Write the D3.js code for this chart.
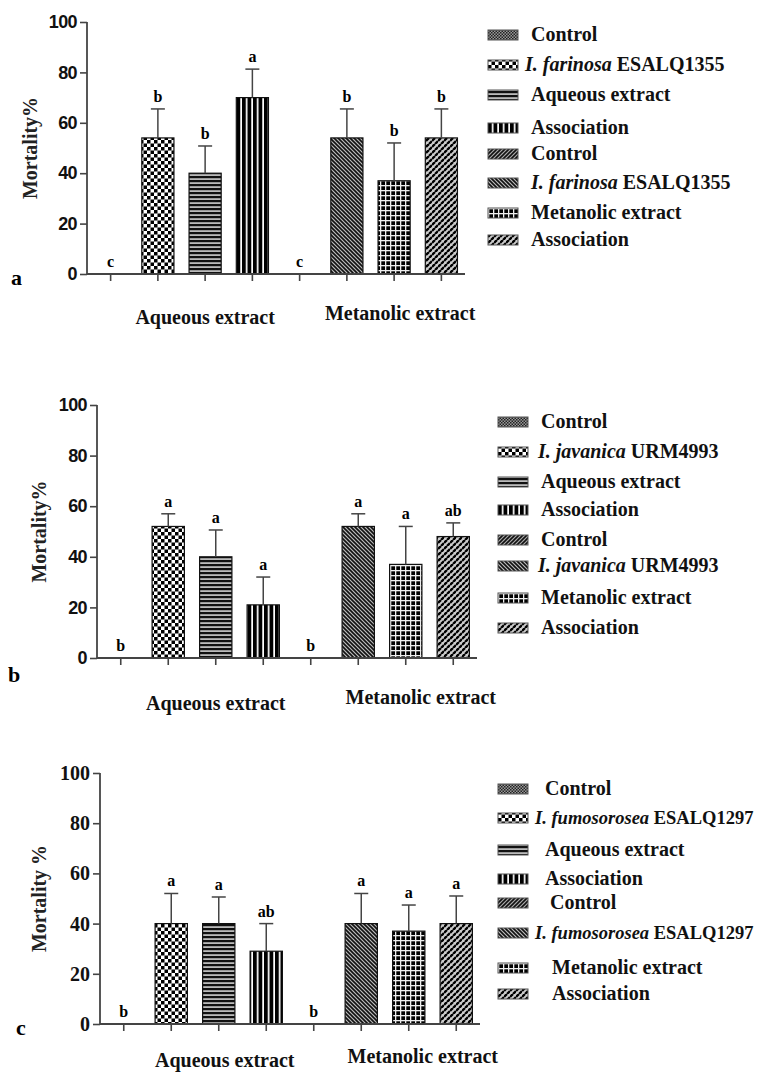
<!DOCTYPE html>
<html>
<head>
<meta charset="utf-8">
<script src="https://cdn.jsdelivr.net/npm/d3@7"></script>
<style>
body { margin: 0; background: #fff; }
svg { display: block; }
</style>
</head>
<body>
<div id="chart"></div>
<script>

// data
const groups = ["Aqueous extract", "Metanolic extract"];
const treatments = ["ctrlA", "fungusA", "extractA", "assocA", "ctrlM", "fungusM", "extractM", "assocM"];
const yTicks = [0, 20, 40, 60, 80, 100];

const meansA = [0, 54, 40, 70, 0, 54, 37, 54];
const errorsA = [0, 11.5, 10.8, 11.3, 0, 11.5, 15, 11.5];
const lettersA = ["c", "b", "b", "a", "c", "b", "b", "b"];
const fungusA = ["I. farinosa", "ESALQ1355"];

const meansB = [0, 52, 40, 21, 0, 52, 37, 48];
const errorsB = [0, 5, 10.6, 11, 0, 5, 15, 5.4];
const lettersB = ["b", "a", "a", "a", "b", "a", "a", "ab"];
const fungusB = ["I. javanica", "URM4993"];

const meansC = [0, 40, 40, 29, 0, 40, 37, 40];
const errorsC = [0, 12, 10.6, 11, 0, 12, 10.4, 11];
const lettersC = ["b", "a", "a", "ab", "b", "a", "a", "a"];
const fungusC = ["I. fumosorosea", "ESALQ1297"];

const legendPatterns = ["ctrlA", "fungusA", "extractA", "assocA", "ctrlM", "fungusM", "extractM", "assocM"];

const W = 759, H = 1072;
const serif = "'Liberation Serif', 'Times New Roman', serif";
const sans = "'Liberation Sans', Arial, sans-serif";
const axisColor = "#444";

const svg = d3.select("#chart").append("svg")
  .attr("width", W)
  .attr("height", H);

// fill patterns
const defs = svg.append("defs");

function pattern(id, size, build, bg) {
  const p = defs.append("pattern")
    .attr("id", id)
    .attr("patternUnits", "userSpaceOnUse")
    .attr("width", size)
    .attr("height", size);
  p.append("rect").attr("width", size).attr("height", size).attr("fill", bg || "#fff");
  build(p, size);
}

pattern("ctrlA", 3, (p) => {
  p.append("rect").attr("width", 1.5).attr("height", 1.5).attr("fill", "#222");
  p.append("rect").attr("x", 1.5).attr("y", 1.5).attr("width", 1.5).attr("height", 1.5).attr("fill", "#222");
}, "#999");
pattern("fungusA", 7, (p) => {
  p.append("rect").attr("width", 3.5).attr("height", 3.5).attr("fill", "#000");
  p.append("rect").attr("x", 3.5).attr("y", 3.5).attr("width", 3.5).attr("height", 3.5).attr("fill", "#000");
});
pattern("extractA", 4, (p) => {
  p.append("rect").attr("width", 4).attr("height", 2.2).attr("fill", "#111");
}, "#bbb");
pattern("assocA", 5.5, (p) => {
  p.append("rect").attr("width", 3.8).attr("height", 5.5).attr("fill", "#000");
});
pattern("ctrlM", 4, (p) => {
  p.append("path").attr("d", "M-1,1 L1,-1 M0,4 L4,0 M3,5 L5,3").attr("stroke", "#111").attr("stroke-width", 1.6);
}, "#aaa");
pattern("fungusM", 4, (p) => {
  p.append("path").attr("d", "M-1,3 L1,5 M0,0 L4,4 M3,-1 L5,1").attr("stroke", "#111").attr("stroke-width", 1.6);
}, "#bbb");
pattern("extractM", 5, (p) => {
  p.append("rect").attr("x", 1.3).attr("y", 1.3).attr("width", 3.7).attr("height", 3.7).attr("fill", "#000");
}, "#eee");
pattern("assocM", 6, (p) => {
  p.append("path").attr("d", "M0,3 L3,0 M3,6 L6,3").attr("stroke", "#000").attr("stroke-width", 2.4);
}, "#ccc");

// one panel
function drawPanel(cfg) {
  const g = svg.append("g");

  const x = d3.scaleBand()
    .domain(treatments)
    .range([cfg.axisX, cfg.xEnd])
    .paddingInner(0.32)
    .paddingOuter(0.16);

  const y = d3.scaleLinear()
    .domain([0, 100])
    .range([cfg.y0, cfg.y100]);

  const data = treatments.map((t, i) => ({ t, mean: cfg.means[i], err: cfg.errors[i], letter: cfg.letters[i] }));

  // bars
  g.selectAll(".bar")
    .data(data.filter(d => d.mean > 0))
    .join("rect")
    .attr("class", "bar")
    .attr("x", d => x(d.t))
    .attr("y", d => y(d.mean))
    .attr("width", x.bandwidth())
    .attr("height", d => y(0) - y(d.mean))
    .attr("fill", d => `url(#${d.t})`)
    .attr("stroke", "#111")
    .attr("stroke-width", 1.2);

  // error bars
  const cap = 7;
  const eb = g.selectAll(".err")
    .data(data.filter(d => d.err > 0))
    .join("g")
    .attr("class", "err")
    .attr("stroke", "#444")
    .attr("stroke-width", 1.5);
  eb.append("line")
    .attr("x1", d => x(d.t) + x.bandwidth() / 2)
    .attr("x2", d => x(d.t) + x.bandwidth() / 2)
    .attr("y1", d => y(d.mean))
    .attr("y2", d => y(d.mean + d.err));
  eb.append("line")
    .attr("x1", d => x(d.t) + x.bandwidth() / 2 - cap)
    .attr("x2", d => x(d.t) + x.bandwidth() / 2 + cap)
    .attr("y1", d => y(d.mean + d.err))
    .attr("y2", d => y(d.mean + d.err));

  // significance letters
  g.selectAll(".letter")
    .data(data)
    .join("text")
    .attr("class", "letter")
    .attr("x", d => x(d.t) + x.bandwidth() / 2)
    .attr("y", d => y(d.mean + d.err) - 7)
    .attr("text-anchor", "middle")
    .attr("font-family", serif)
    .attr("font-weight", "bold")
    .attr("font-size", 16)
    .text(d => d.letter);

  // axes
  const yAxis = d3.axisLeft(y).tickValues(yTicks).tickSize(7).tickPadding(3);
  const gy = g.append("g")
    .attr("transform", `translate(${cfg.axisX},0)`)
    .call(yAxis);
  const xAxis = d3.axisBottom(x).tickSize(7).tickFormat("");
  const gx = g.append("g")
    .attr("transform", `translate(0,${cfg.y0})`)
    .call(xAxis);
  [gx, gy].forEach(a => {
    a.select(".domain").attr("stroke", axisColor).attr("stroke-width", 1.8);
    a.selectAll(".tick line").attr("stroke", axisColor).attr("stroke-width", 1.6);
  });
  gx.select(".domain").attr("d", `M${cfg.axisX},0H${cfg.xEnd}`);
  gy.select(".domain").attr("d", `M0,${cfg.y0}V${cfg.y100}`);
  gy.selectAll(".tick text")
    .attr("fill", "#111")
    .attr("font-family", cfg.tickFont)
    .attr("font-weight", "bold")
    .attr("font-size", cfg.tickSize)
    .attr("letter-spacing", cfg.tickFont === sans ? -0.6 : 0);

  // y label
  g.append("text")
    .attr("transform", `translate(${cfg.yLabelX},${(cfg.y0 + cfg.y100) / 2 + cfg.yLabelDy}) rotate(-90)`)
    .attr("text-anchor", "middle")
    .attr("font-family", serif)
    .attr("font-weight", "bold")
    .attr("font-size", 20)
    .attr("fill", "#222")
    .text(cfg.yLabel);

  // group labels, centred over the three treated bars of each group
  groups.forEach((name, i) => {
    const first = x(treatments[i * 4 + 1]);
    const last = x(treatments[i * 4 + 3]) + x.bandwidth();
    g.append("text")
      .attr("x", (first + last) / 2 + cfg.groupDx[i])
      .attr("y", cfg.groupY[i])
      .attr("text-anchor", "middle")
      .attr("font-family", serif)
      .attr("font-weight", "bold")
      .attr("font-size", 20)
      .attr("fill", "#111")
      .text(name);
  });

  // panel letter
  g.append("text")
    .attr("x", cfg.letterPos[0])
    .attr("y", cfg.letterPos[1])
    .attr("font-family", serif)
    .attr("font-weight", "bold")
    .attr("font-size", 22)
    .text(cfg.panelLetter);

  // legend
  const labels = ["Control", cfg.fungus, "Aqueous extract", "Association",
    "Control", cfg.fungus, "Metanolic extract", "Association"];
  const lg = g.selectAll(".legend")
    .data(labels)
    .join("g")
    .attr("class", "legend")
    .attr("transform", (d, i) => `translate(${cfg.legendX},${cfg.legendRows[i]})`);
  lg.append("rect")
    .attr("x", 0)
    .attr("y", -5)
    .attr("width", 30)
    .attr("height", 10)
    .attr("fill", (d, i) => `url(#${legendPatterns[i]})`)
    .attr("stroke", "#555")
    .attr("stroke-width", 1);
  const lt = lg.append("text")
    .attr("x", (d, i) => cfg.legendTextX[i])
    .attr("y", 6)
    .attr("font-family", serif)
    .attr("font-weight", "bold")
    .attr("font-size", d => Array.isArray(d) ? cfg.fungusSize : 20)
    .attr("fill", "#111");
  lt.each(function (d) {
    const t = d3.select(this);
    if (Array.isArray(d)) {
      t.append("tspan").attr("font-style", "italic").text(d[0]);
      t.append("tspan").text(" " + d[1]);
    } else {
      t.text(d);
    }
  });
}

drawPanel({
  means: meansA, errors: errorsA, letters: lettersA, fungus: fungusA,
  axisX: 87, xEnd: 465, y0: 274, y100: 22,
  tickFont: sans, tickSize: 18,
  yLabel: "Mortality%", yLabelX: 37, yLabelDy: 0,
  groupY: [324, 320], groupDx: [0, 6],
  letterPos: [11, 285], panelLetter: "a",
  fungusSize: 20,
  legendX: 488, legendTextX: [43, 37, 43, 43, 43, 43, 43, 43],
  legendRows: [35, 65, 95, 128, 154, 183, 213, 240]
});

drawPanel({
  means: meansB, errors: errorsB, letters: lettersB, fungus: fungusB,
  axisX: 97, xEnd: 477, y0: 658, y100: 405,
  tickFont: sans, tickSize: 18,
  yLabel: "Mortality%", yLabelX: 46, yLabelDy: 0,
  groupY: [710, 704], groupDx: [0, 15],
  letterPos: [8, 682], panelLetter: "b",
  fungusSize: 20,
  legendX: 498, legendTextX: [43, 40, 43, 43, 43, 40, 43, 43],
  legendRows: [422, 452, 482, 510, 540, 566, 598, 628]
});

drawPanel({
  means: meansC, errors: errorsC, letters: lettersC, fungus: fungusC,
  axisX: 100, xEnd: 480, y0: 1024, y100: 773,
  tickFont: serif, tickSize: 20,
  yLabel: "Mortality %", yLabelX: 46, yLabelDy: 0,
  groupY: [1067, 1063], groupDx: [6, 14],
  letterPos: [16, 1035], panelLetter: "c",
  fungusSize: 18.5,
  legendX: 498, legendTextX: [47, 37, 47, 47, 52, 37, 54, 54],
  legendRows: [789, 818, 850, 879, 903, 933, 968, 994]
});

</script>
</body>
</html>
